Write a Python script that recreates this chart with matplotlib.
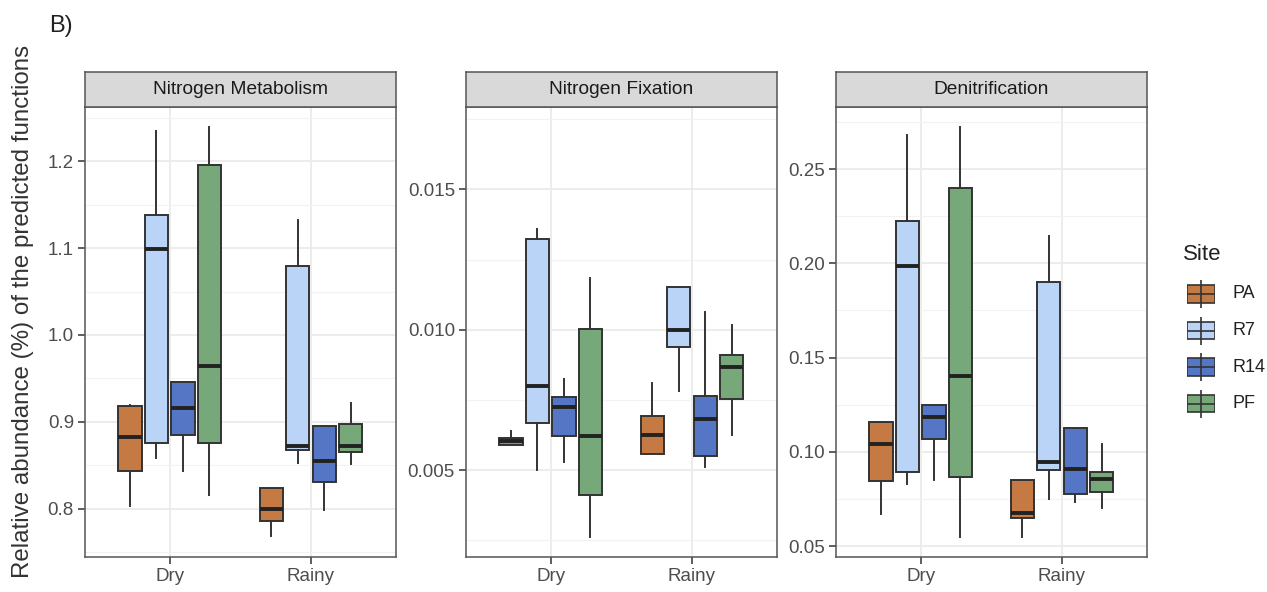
import matplotlib
matplotlib.use('Agg')
import matplotlib.pyplot as plt
from matplotlib.patches import Rectangle

plt.rcParams['font.family'] = ['Liberation Sans', 'DejaVu Sans']

SITES   = ['PA', 'R7', 'R14', 'PF']
SEASONS = ['Dry', 'Rainy']
COLORS  = ['#C57A44', '#BAD4F8', '#5476C4', '#77A87A']

# order in every list: Dry PA, R7, R14, PF, Rainy PA, R7, R14, PF
nm_low  = [0.803, 0.858, 0.843, 0.816, 0.768, 0.853, 0.798, 0.851]
nm_q1   = [0.843, 0.875, 0.885, 0.876, 0.786, 0.867, 0.831, 0.865]
nm_med  = [0.882, 1.099, 0.916, 0.964, 0.799, 0.872, 0.855, 0.872]
nm_q3   = [0.918, 1.138, 0.946, 1.196, 0.824, 1.080, 0.895, 0.897]
nm_high = [0.919, 1.235, 0.946, 1.240, 0.824, 1.132, 0.895, 0.922]

nf_low  = [0.0059, 0.00502, 0.00527, 0.00263, 0.00556, 0.00783, 0.00511, 0.00626]
nf_q1   = [0.0059, 0.00668, 0.00620, 0.00410, 0.00556, 0.00937, 0.00551, 0.00753]
nf_med  = [0.00604, 0.00801, 0.00725, 0.00622, 0.00626, 0.00999, 0.00683, 0.00867]
nf_q3   = [0.00616, 0.01322, 0.00759, 0.01004, 0.00692, 0.01153, 0.00763, 0.00910]
nf_high = [0.00638, 0.01358, 0.00826, 0.01185, 0.00810, 0.01153, 0.01064, 0.01017]

dn_low  = [0.0671, 0.0830, 0.0851, 0.0550, 0.0550, 0.0749, 0.0736, 0.0704]
dn_q1   = [0.0844, 0.0893, 0.1069, 0.0866, 0.0650, 0.0905, 0.0776, 0.0788]
dn_med  = [0.1041, 0.1986, 0.1185, 0.1403, 0.0677, 0.0947, 0.0907, 0.0857]
dn_q3   = [0.1158, 0.2223, 0.1248, 0.2397, 0.0853, 0.1902, 0.1127, 0.0893]
dn_high = [0.1158, 0.2682, 0.1248, 0.2722, 0.0853, 0.2145, 0.1127, 0.1040]

panels = [
    ('Nitrogen Metabolism', (nm_low, nm_q1, nm_med, nm_q3, nm_high),
     (0.744, 1.263), [0.8, 0.9, 1.0, 1.1, 1.2], '{:.1f}'),
    ('Nitrogen Fixation', (nf_low, nf_q1, nf_med, nf_q3, nf_high),
     (0.0019, 0.01794), [0.005, 0.010, 0.015], '{:.3f}'),
    ('Denitrification', (dn_low, dn_q1, dn_med, dn_q3, dn_high),
     (0.0442, 0.283), [0.05, 0.10, 0.15, 0.20, 0.25], '{:.2f}'),
]

W, H = 1267, 592
fig = plt.figure(figsize=(W / 100, H / 100), dpi=100)
lefts = [85, 466, 836]
pw, top, bot, strip_top = 310.7, 106.8, 557.1, 71.9
EDGE = '#333333'
dodge, bw = 0.1875, 0.165

for (title, stats, ylim, ticks, fmt), lx in zip(panels, lefts):
    ax = fig.add_axes([lx / W, 1 - bot / H, pw / W, (bot - top) / H])
    lo, q1, md, q3, hi = stats
    for i in range(8):
        season, site = divmod(i, 4)
        pos = season + 1 + (site - 1.5) * dodge
        st = [dict(whislo=lo[i], q1=q1[i], med=md[i], q3=q3[i], whishi=hi[i], fliers=[])]
        ax.bxp(st, positions=[pos], widths=bw, patch_artist=True, showcaps=False,
               boxprops=dict(facecolor=COLORS[site], edgecolor=EDGE, lw=1.4),
               medianprops=dict(color='#222222', lw=2.8, solid_capstyle='butt'),
               whiskerprops=dict(color=EDGE, lw=1.4), zorder=3)
    ax.set_xlim(0.4, 2.6)
    ax.set_ylim(*ylim)
    ax.set_xticks([1, 2])
    ax.set_xticklabels(SEASONS)
    ax.set_yticks(ticks)
    ax.set_yticklabels([fmt.format(t) for t in ticks])
    step = ticks[1] - ticks[0]
    minor = [t + step / 2 for t in [ticks[0] - step] + ticks]
    ax.set_yticks([m for m in minor if ylim[0] < m < ylim[1]], minor=True)
    ax.grid(True, which='major', color='#EBEBEB', lw=1.3)
    ax.grid(True, which='minor', axis='y', color='#F2F2F2', lw=0.8)
    ax.set_axisbelow(True)
    ax.tick_params(which='major', length=5, width=1.1, color='#333333',
                   labelsize=13.5, labelcolor='#4D4D4D', pad=3)
    ax.tick_params(which='minor', length=0)
    for s in ax.spines.values():
        s.set_color('#555555'); s.set_linewidth(1.1)

    sax = fig.add_axes([lx / W, 1 - top / H, pw / W, (top - strip_top) / H])
    sax.set_facecolor('#D9D9D9')
    sax.set_xticks([]); sax.set_yticks([])
    for s in sax.spines.values():
        s.set_color('#555555'); s.set_linewidth(1.1)
    sax.text(0.5, 0.5, title, ha='center', va='center', fontsize=13.8,
             color='#1A1A1A', transform=sax.transAxes)

fig.text(23 / W, 1 - 311 / H, 'Relative abundance (%) of the predicted functions',
         rotation=90, ha='center', va='center', fontsize=17.4, color='#333333')
fig.text(49 / W, 1 - 26 / H, 'B)', ha='left', va='center', fontsize=17, color='#222222')

# legend
fig.text(1183 / W, 1 - 255 / H, 'Site', ha='left', va='center', fontsize=16, color='#222222')
for k, (site, col) in enumerate(zip(SITES, COLORS)):
    yc = 294 + k * 36.5
    kax = fig.add_axes([1187 / W, 1 - (yc + 14) / H, 28 / W, 28 / H])
    kax.set_xlim(0, 1); kax.set_ylim(0, 1); kax.axis('off')
    kax.plot([0.5, 0.5], [0.0, 1.0], color=EDGE, lw=1.2)
    kax.add_patch(Rectangle((0.0, 0.18), 1.0, 0.64, facecolor=col, edgecolor=EDGE, lw=1.2))
    kax.plot([0.0, 1.0], [0.5, 0.5], color=EDGE, lw=1.2)
    fig.text(1232 / W, 1 - yc / H, site, ha='left', va='center', fontsize=13, color='#222222')

fig.savefig('out.png', dpi=100, facecolor='white')
